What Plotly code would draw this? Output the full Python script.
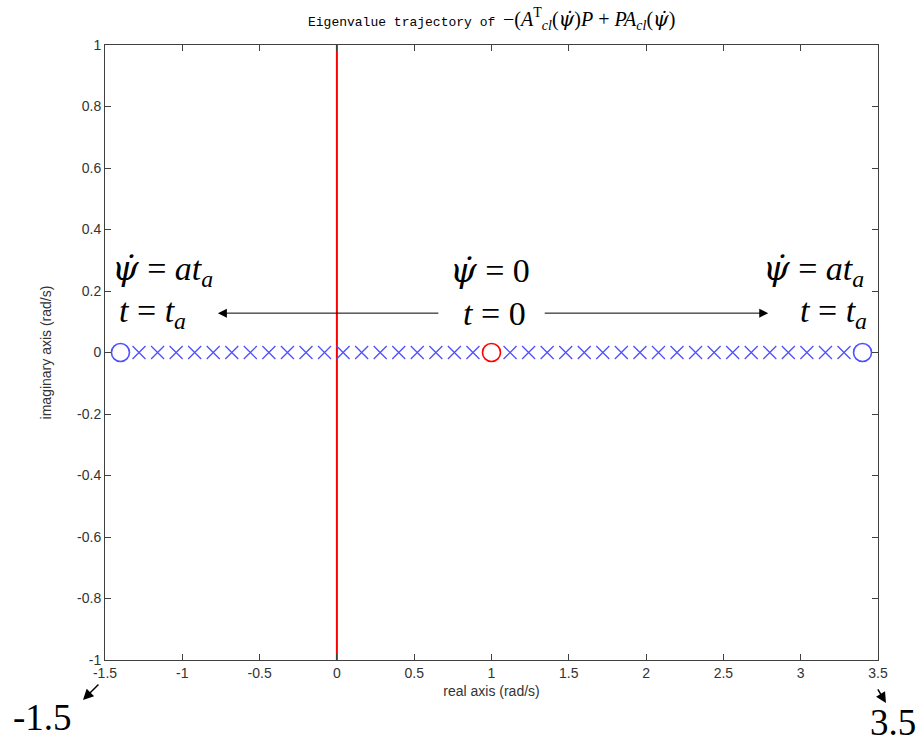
import plotly.graph_objects as go

# Eigenvalue trajectory samples (real parts, rad/s); all lie on the real axis
traj_left = [-1.28, -1.16, -1.04, -0.92, -0.80, -0.68, -0.56, -0.44, -0.32, -0.20,
             -0.08, 0.04, 0.16, 0.28, 0.40, 0.52, 0.64, 0.76, 0.88]
traj_right = [1.12, 1.24, 1.36, 1.48, 1.60, 1.72, 1.84, 1.96, 2.08, 2.20,
              2.32, 2.44, 2.56, 2.68, 2.80, 2.92, 3.04, 3.16, 3.28]
traj_imag = [0.0] * len(traj_left)
end_points = [-1.40, 3.40]        # eigenvalues at t = t_a
start_point = [1.00]              # eigenvalue at t = 0
stability_line_x = [0.0, 0.0]
stability_line_y = [-1.0, 1.0]

x_ticks = [-1.5, -1, -0.5, 0, 0.5, 1, 1.5, 2, 2.5, 3, 3.5]
x_tick_text = ["-1.5", "-1", "-0.5", "0", "0.5", "1", "1.5", "2", "2.5", "3", "3.5"]
y_ticks = [-1, -0.8, -0.6, -0.4, -0.2, 0, 0.2, 0.4, 0.6, 0.8, 1]
y_tick_text = ["-1", "-0.8", "-0.6", "-0.4", "-0.2", "0", "0.2", "0.4", "0.6", "0.8", "1"]

BLUE = "#4f4fff"
RED = "#ff0000"
SERIF = "Liberation Serif"

fig = go.Figure()

fig.add_trace(go.Scatter(x=stability_line_x, y=stability_line_y, mode="lines",
                         line=dict(color=RED, width=2), hoverinfo="skip"))
fig.add_trace(go.Scatter(x=traj_left + traj_right, y=traj_imag + traj_imag, mode="markers",
                         marker=dict(symbol="x-thin", size=13, line=dict(color=BLUE, width=1.3))))
fig.add_trace(go.Scatter(x=end_points, y=[0.0, 0.0], mode="markers",
                         marker=dict(symbol="circle-open", size=18, color=BLUE, line=dict(color=BLUE, width=1.6))))
fig.add_trace(go.Scatter(x=start_point, y=[0.0], mode="markers",
                         marker=dict(symbol="circle-open", size=18, color=RED, line=dict(color=RED, width=1.6))))

big = dict(family=SERIF, size=34, color="black")
psi = "<span style='font-family:DejaVu Serif'><i>ψ̇</i></span>"
eq = " = "
labels = [
    (-1.13, 0.268, psi + eq + "<i>at<sub>a</sub></i>"),
    (-1.19, 0.128, "<i>t</i>" + eq + "<i>t<sub>a</sub></i>"),
    (0.99, 0.268, psi + eq + "0"),
    (1.02, 0.128, "<i>t</i>" + eq + "0"),
    (3.08, 0.268, psi + eq + "<i>at<sub>a</sub></i>"),
    (3.21, 0.128, "<i>t</i>" + eq + "<i>t<sub>a</sub></i>"),
]
for x, y, txt in labels:
    fig.add_annotation(x=x, y=y, text=txt, showarrow=False, font=big, xanchor="center", yanchor="middle")

# direction of the trajectory as time goes from 0 to t_a
arrow_style = dict(showarrow=True, arrowhead=2, arrowsize=1.8, arrowwidth=1, arrowcolor="black",
                   text="", axref="pixel", ayref="pixel")
fig.add_annotation(x=-0.77, y=0.128, ax=222, ay=0, **arrow_style)
fig.add_annotation(x=2.79, y=0.128, ax=-225, ay=0, **arrow_style)

# axis-limit callouts below the plot
corner = dict(family=SERIF, size=37, color="black")
callout_arrow = dict(arrow_style, arrowsize=1.4, arrowwidth=1.5)
fig.add_annotation(xref="paper", yref="paper", x=-0.0285, y=-0.065, ax=17, ay=-17, **callout_arrow)
fig.add_annotation(xref="paper", yref="paper", x=-0.081, y=-0.094, text="-1.5",
                   showarrow=False, font=corner, xanchor="center", yanchor="middle")
fig.add_annotation(xref="paper", yref="paper", x=1.0103, y=-0.0699, ax=-9, ay=-15, **callout_arrow)
fig.add_annotation(xref="paper", yref="paper", x=1.019, y=-0.1024, text="3.5",
                   showarrow=False, font=corner, xanchor="center", yanchor="middle")

axis_common = dict(showgrid=False, zeroline=False, showline=True, linecolor="#404040", linewidth=1,
                   mirror="ticks", ticks="inside", ticklen=6, tickcolor="#404040",
                   tickfont=dict(family="Liberation Sans", size=14, color="#333333"))

tpsi = "<span style='font-family:DejaVu Serif'><i>ψ̇</i></span>"
title_text = ("<span style='font-family:Liberation Mono;font-size:13px'>Eigenvalue trajectory of </span>"
              "−(<i>A</i><sup>T</sup><sub><i>cl</i></sub>(" + tpsi + ")<i>P</i> + "
              "<i>PA<sub>cl</sub></i>(" + tpsi + ")")

fig.update_layout(
    width=920, height=746,
    margin=dict(l=105, r=42, t=45, b=86),
    paper_bgcolor="white", plot_bgcolor="white",
    showlegend=False,
    title=dict(text=title_text, x=0.5345, xanchor="center", y=0.975, yanchor="middle",
               font=dict(family=SERIF, size=20, color="black")),
    xaxis=dict(range=[-1.5, 3.5], tickvals=x_ticks, ticktext=x_tick_text,
               title=dict(text="real axis (rad/s)", standoff=6,
                          font=dict(family="Liberation Sans", size=14, color="#333333")),
               **axis_common),
    yaxis=dict(range=[-1, 1], tickvals=y_ticks, ticktext=y_tick_text,
               title=dict(text="imaginary axis (rad/s)", standoff=22,
                          font=dict(family="Liberation Sans", size=14, color="#333333")),
               **axis_common),
)

fig.write_html("out.html")
